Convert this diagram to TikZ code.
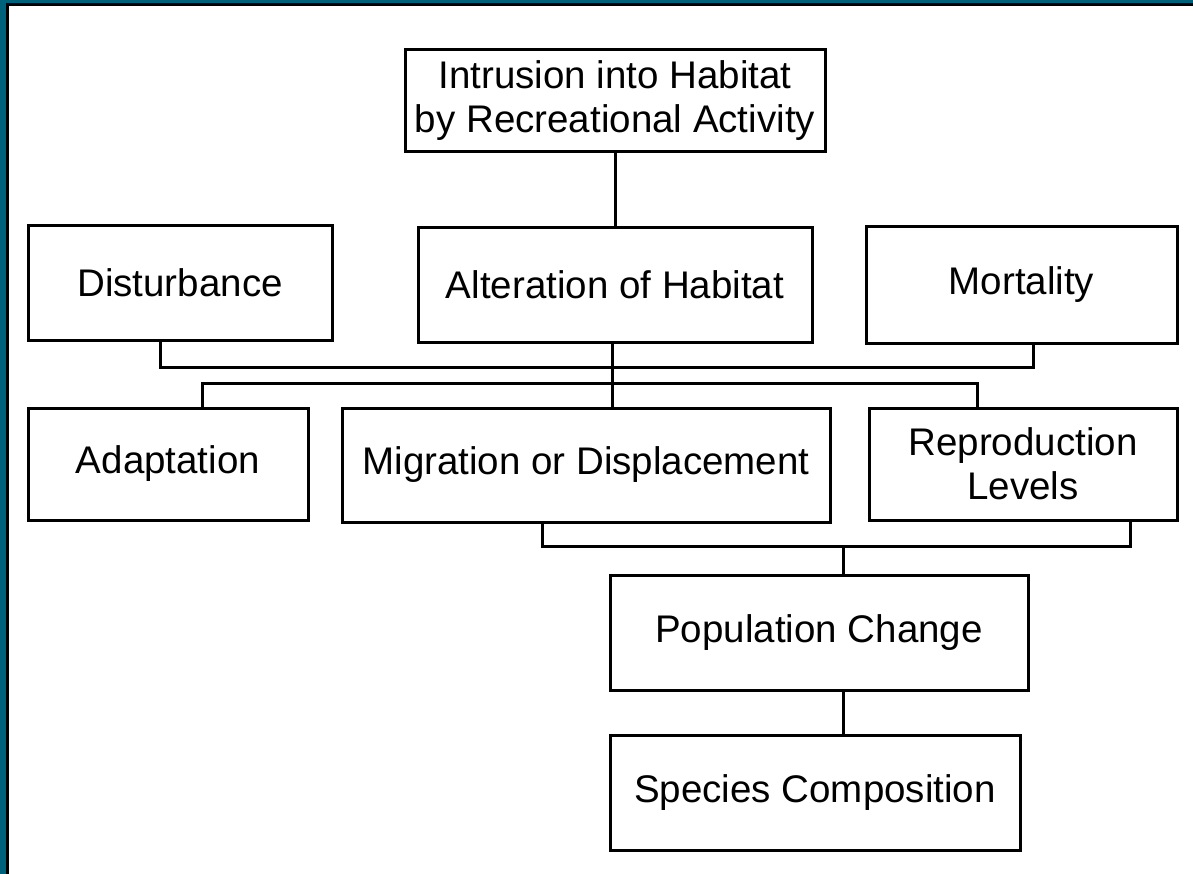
\documentclass[tikz,border=0pt]{standalone}
\usepackage{fontspec}
\setmainfont{Liberation Sans}
\definecolor{frameteal}{RGB}{0,98,122}
\begin{document}
\begin{tikzpicture}[x=1pt,y=-1pt]
		% Estilos para os nós
		\tikzstyle{box} = [rectangle, draw=black, line width=3pt, fill=white, align=center, inner sep=0pt, font=\fontsize{38.5}{44}\selectfont]
		\tikzstyle{line} = [line width=3pt, draw=black]
		% Moldura
		\useasboundingbox (0,0) rectangle (1193,874);
		\fill [white] (0,0) rectangle (1193,874);
		\fill [frameteal] (0,0) rectangle (1193,3);
		\fill [frameteal] (0,0) rectangle (6,874);
		\fill [black] (6,3) rectangle (1193,6);
		\fill [black] (6,3) rectangle (9,874);
		% Nós
		\node (intr) [box, minimum width=420pt, minimum height=102pt] at (615,101) {Intrusion into Habitat\\by Recreational Activity};
		\node (dist) [box, minimum width=304pt, minimum height=114pt] at (180,283) {Disturbance};
		\node (alt) [box, minimum width=394pt, minimum height=114pt] at (615,285) {Alteration of Habitat};
		\node (mort) [box, minimum width=311pt, minimum height=116pt] at (1021.5,285) {Mortality};
		\node (adapt) [box, minimum width=280pt, minimum height=112pt] at (168,464) {Adaptation};
		\node (migr) [box, minimum width=488pt, minimum height=114pt] at (586,465) {Migration or Displacement};
		\node (repro) [box, minimum width=308pt, minimum height=112pt] at (1023,464) {Reproduction\\Levels};
		\node (pop) [box, minimum width=418pt, minimum height=115pt] at (819,632.5) {Population Change};
		\node (spec) [box, minimum width=410pt, minimum height=115pt] at (815,792.5) {Species Composition};
		% Junções
		\coordinate (busA) at (612,367);
		\coordinate (busB) at (612,383);
		\coordinate (busC) at (843,546);
		% Ligações
		\draw [line] (intr.south) -- (alt.north);
		\draw [line] ([xshift=-20pt]dist.south) |- (busA) -| ([xshift=12pt]mort.south);
		\draw [line] ([xshift=-3pt]alt.south) -- ([xshift=-3pt]alt.south |- migr.north);
		\draw [line] ([xshift=34pt]adapt.north) |- (busB) -| ([xshift=-46pt]repro.north);
		\draw [line] ([xshift=-44pt]migr.south) |- (busC) -| ([xshift=107pt]repro.south);
		\draw [line] (busC) -- (pop.north -| busC);
		\draw [line] (pop.south -| busC) -- (spec.north -| busC);
	\end{tikzpicture}
\end{document}
